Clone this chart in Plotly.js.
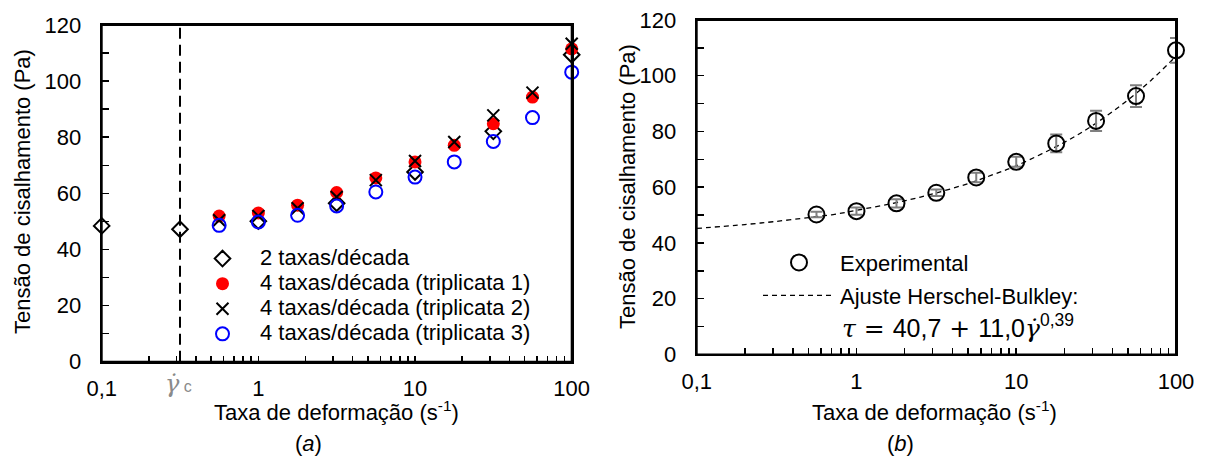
<!DOCTYPE html>
<html>
<head>
<meta charset="utf-8">
<script src="https://cdn.plot.ly/plotly-3.0.1.min.js"></script>
<style>html,body{margin:0;padding:0;background:#fff;}#chart{width:1208px;height:457px;}</style>
</head>
<body>
<div id="chart"></div>
<script>
// ---- data ----
const rates2 = [0.1, 0.316, 1, 3.16, 10, 31.6, 100];
const tau2 = [48.4, 47.2, 50.1, 56.5, 67.6, 82.1, 109.4];
const rates4 = [0.562, 1, 1.78, 3.16, 5.62, 10, 17.8, 31.6, 56.2, 100];
const tauT1 = [51.9, 53.0, 55.8, 60.3, 65.5, 71.2, 77.1, 84.8, 94.3, 111.5];
const tauT2 = [50.4, 51.9, 54.7, 58.7, 64.7, 71.5, 78.3, 87.8, 95.9, 113.3];
const tauT3 = [48.6, 49.8, 52.2, 55.5, 60.5, 65.8, 71.2, 78.5, 87.0, 103.2];
const ratesExp = [0.562, 1, 1.78, 3.16, 5.62, 10, 17.8, 31.6, 56.2, 100];
const tauExp = [50.2, 51.4, 54.2, 58.0, 63.5, 69.1, 75.7, 83.8, 92.7, 109.1];
const tauErr = [1.0, 1.3, 1.5, 1.2, 1.7, 1.8, 3.2, 3.6, 3.9, 4.4];
const ratesFit = [0.1, 0.2, 0.3, 0.5, 0.7, 1, 2, 3, 5, 7, 10, 20, 30, 50, 70, 100];
const tauFit = [45.2, 46.6, 47.6, 49.1, 50.1, 51.7, 55.1, 57.6, 61.3, 64.3, 67.7, 76.1, 82.1, 91.3, 98.4, 107.0];
const gammaC = 0.316;
const seriesNamesA = ['2 taxas/década', '4 taxas/década (triplicata 1)', '4 taxas/década (triplicata 2)', '4 taxas/década (triplicata 3)'];
const seriesNamesB = ['Experimental', 'Ajuste Herschel-Bulkley:'];
const xTickVals = [0.1, 1, 10, 100];
const xTickText = ['0,1', '1', '10', '100'];
const xMinorVals = [0.2,0.3,0.4,0.5,0.6,0.7,0.8,0.9,2,3,4,5,6,7,8,9,20,30,40,50,60,70,80,90];
const yTickVals = [0, 20, 40, 60, 80, 100, 120];

// ---- styling ----
const FONT = 'Liberation Sans, Arial, sans-serif';
const big = s => '<span style="font-size:22px">' + s + '</span>';

const traces = [
  {x: rates2, y: tau2, name: big(seriesNamesA[0]), type: 'scatter', mode: 'markers', xaxis: 'x', yaxis: 'y', legend: 'legend', cliponaxis: false,
   marker: {symbol: 'diamond-open', size: 12, color: '#000', line: {width: 2, color: '#000'}}},
  {x: rates4, y: tauT1, name: big(seriesNamesA[1]), type: 'scatter', mode: 'markers', xaxis: 'x', yaxis: 'y', legend: 'legend', cliponaxis: false,
   marker: {symbol: 'circle', size: 13, color: '#ff0000', line: {width: 0}}},
  {x: rates4, y: tauT2, name: big(seriesNamesA[2]), type: 'scatter', mode: 'markers', xaxis: 'x', yaxis: 'y', legend: 'legend', cliponaxis: false,
   marker: {symbol: 'x-thin-open', size: 12, color: '#000', line: {width: 2, color: '#000'}}},
  {x: rates4, y: tauT3, name: big(seriesNamesA[3]), type: 'scatter', mode: 'markers', xaxis: 'x', yaxis: 'y', legend: 'legend', cliponaxis: false,
   marker: {symbol: 'circle-open', size: 13, color: '#0000ff', line: {width: 2, color: '#0000ff'}}},
  {x: ratesFit, y: tauFit, name: big(seriesNamesB[1]), type: 'scatter', mode: 'lines', xaxis: 'x2', yaxis: 'y2', legend: 'legend2', cliponaxis: false,
   line: {color: '#000', width: 1.3, dash: '5px,4px', shape: 'spline'}},
  {x: ratesExp, y: tauExp, name: big(seriesNamesB[0]), type: 'scatter', mode: 'markers', xaxis: 'x2', yaxis: 'y2', legend: 'legend2', cliponaxis: false,
   error_y: {type: 'data', array: tauErr, visible: true, color: '#7f7f7f', thickness: 2, width: 6},
   marker: {symbol: 'circle-open', size: 16, color: '#000', line: {width: 2, color: '#000'}}}
];

const xCommon = {
  type: 'log', range: [-1, 2], tickmode: 'array', tickvals: xTickVals, ticktext: xTickText,
  ticks: 'inside', ticklen: 6, tickwidth: 1.5, tickcolor: '#000',
  showline: true, linecolor: '#000', linewidth: 2, mirror: true,
  showgrid: false, zeroline: false, ticklabelstandoff: 6,
  tickfont: {family: FONT, size: 22, color: '#000'},
  minor: {tickmode: 'array', tickvals: xMinorVals, ticks: 'inside', ticklen: 6, tickwidth: 1.5, tickcolor: '#000', showgrid: false}
};
const yCommon = {
  range: [0, 120], tickmode: 'array', tickvals: yTickVals,
  ticks: 'inside', ticklen: 7, tickwidth: 1.5, tickcolor: '#000',
  showline: true, linecolor: '#000', linewidth: 2, mirror: true,
  showgrid: false, zeroline: false, ticklabelstandoff: 14,
  tickfont: {family: FONT, size: 22, color: '#000'},
  minor: {dtick: 10, ticks: 'inside', ticklen: 7, tickwidth: 1.5, tickcolor: '#000', showgrid: false}
};

const px = v => v / 1208;
const py = v => 1 - v / 457;
const frame = (xr, yr) => ({type: 'rect', xref: xr + ' domain', yref: yr + ' domain', x0: 0, x1: 1, y0: 0, y1: 1,
  line: {color: '#000', width: 2}, fillcolor: 'rgba(0,0,0,0)', layer: 'above'});

const layout = {
  width: 1208, height: 457,
  margin: {l: 0, r: 0, t: 0, b: 0},
  paper_bgcolor: '#fff', plot_bgcolor: 'rgba(0,0,0,0)',
  font: {family: FONT, color: '#000'},
  showlegend: true,
  xaxis: Object.assign({}, xCommon, {domain: [px(101.7), px(571.7)], anchor: 'y'}),
  yaxis: Object.assign({}, yCommon, {domain: [py(361.7), py(25)], anchor: 'x'}),
  xaxis2: Object.assign({}, xCommon, {domain: [px(696.7), px(1176)], anchor: 'y2'}),
  yaxis2: Object.assign({}, yCommon, {domain: [py(354.4), py(20)], anchor: 'x2'}),
  legend: {x: px(185), y: py(241), xanchor: 'left', yanchor: 'top', bgcolor: 'rgba(0,0,0,0)',
           font: {family: FONT, size: 17, color: '#000'}, itemwidth: 65, tracegroupgap: 0},
  legend2: {x: px(758), y: py(241), xanchor: 'left', yanchor: 'top', bgcolor: 'rgba(0,0,0,0)', traceorder: 'reversed',
           font: {family: FONT, size: 23, color: '#000'}, itemwidth: 72, tracegroupgap: 0},
  shapes: [
    frame('x', 'y'),
    frame('x2', 'y2'),
    {type: 'line', xref: 'x', yref: 'y', x0: gammaC, x1: gammaC, y0: 0, y1: 120,
     line: {color: '#000', width: 2, dash: '11px,6px'}}
  ],
  annotations: [
    {xref: 'paper', yref: 'paper', x: px(22), y: py(192), text: 'Tensão de cisalhamento (Pa)', textangle: -90,
     showarrow: false, xanchor: 'center', yanchor: 'middle', font: {family: FONT, size: 22, color: '#000'}},
    {xref: 'paper', yref: 'paper', x: px(627), y: py(187), text: 'Tensão de cisalhamento (Pa)', textangle: -90,
     showarrow: false, xanchor: 'center', yanchor: 'middle', font: {family: FONT, size: 22, color: '#000'}},
    {xref: 'paper', yref: 'paper', x: px(336), y: py(411), text: 'Taxa de deformação (s<sup>-1</sup>)',
     showarrow: false, xanchor: 'center', yanchor: 'middle', font: {family: FONT, size: 22, color: '#000'}},
    {xref: 'paper', yref: 'paper', x: px(934), y: py(411), text: 'Taxa de deformação (s<sup>-1</sup>)',
     showarrow: false, xanchor: 'center', yanchor: 'middle', font: {family: FONT, size: 22, color: '#000'}},
    {xref: 'paper', yref: 'paper', x: px(308), y: py(443), text: '(<i>a</i>)',
     showarrow: false, xanchor: 'center', yanchor: 'middle', font: {family: FONT, size: 22, color: '#000'}},
    {xref: 'paper', yref: 'paper', x: px(900), y: py(443), text: '(<i>b</i>)',
     showarrow: false, xanchor: 'center', yanchor: 'middle', font: {family: FONT, size: 22, color: '#000'}},
    {xref: 'paper', yref: 'paper', x: px(178), y: py(384), text: '<i>γ̇</i><span style="font-family:Liberation Sans;font-size:16px"> c</span>',
     showarrow: false, xanchor: 'center', yanchor: 'middle', font: {family: 'DejaVu Serif, serif', size: 24, color: '#8a8a8a'}},
    {xref: 'paper', yref: 'paper', x: px(958), y: py(326),
     text: '<span style="font-family:DejaVu Serif"><i>τ</i> = </span>40,7<span style="font-family:DejaVu Serif"> + </span>11,0<span style="font-family:DejaVu Serif"><i>γ̇</i></span><sup>0,39</sup>',
     showarrow: false, xanchor: 'center', yanchor: 'middle', font: {family: FONT, size: 25, color: '#000'}}
  ]
};

Plotly.newPlot('chart', traces, layout, {staticPlot: true, displayModeBar: false});
</script>
</body>
</html>
